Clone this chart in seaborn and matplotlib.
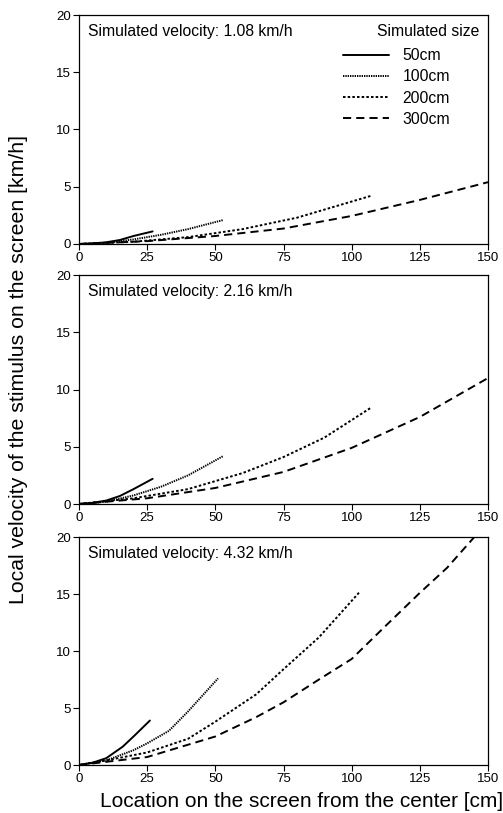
import numpy as np
import pandas as pd
import matplotlib
matplotlib.use("Agg")
import matplotlib.pyplot as plt
import seaborn as sns

sizes = ["50cm", "100cm", "200cm", "300cm"]
velocities = ["1.08", "2.16", "4.32"]

# panel 1: 1.08 km/h
p1_x_50 = [0, 5, 10, 15, 20, 27]
p1_y_50 = [0, 0.05, 0.15, 0.35, 0.7, 1.1]
p1_x_100 = [0, 10, 20, 30, 40, 53]
p1_y_100 = [0, 0.1, 0.4, 0.8, 1.3, 2.1]
p1_x_200 = [0, 20, 40, 60, 80, 107]
p1_y_200 = [0, 0.2, 0.6, 1.3, 2.3, 4.2]
p1_x_300 = [0, 25, 50, 75, 100, 125, 150]
p1_y_300 = [0, 0.25, 0.7, 1.35, 2.45, 3.85, 5.4]

# panel 2: 2.16 km/h
p2_x_50 = [0, 5, 10, 15, 20, 27]
p2_y_50 = [0, 0.1, 0.3, 0.7, 1.3, 2.2]
p2_x_100 = [0, 10, 20, 30, 40, 53]
p2_y_100 = [0, 0.2, 0.75, 1.5, 2.5, 4.2]
p2_x_200 = [0, 20, 40, 60, 75, 90, 107]
p2_y_200 = [0, 0.5, 1.3, 2.7, 4.1, 5.8, 8.4]
p2_x_300 = [0, 25, 50, 75, 100, 125, 150]
p2_y_300 = [0, 0.5, 1.4, 2.8, 4.9, 7.6, 11.0]

# panel 3: 4.32 km/h
p3_x_50 = [0, 5, 10, 16, 20, 26]
p3_y_50 = [0, 0.2, 0.6, 1.6, 2.5, 3.9]
p3_x_100 = [0, 10, 20, 25, 33, 40, 51]
p3_y_100 = [0, 0.4, 1.3, 1.9, 3.0, 4.7, 7.6]
p3_x_200 = [0, 10, 25, 40, 50, 65, 75, 88, 103]
p3_y_200 = [0, 0.4, 1.1, 2.3, 3.8, 6.2, 8.4, 11.2, 15.2]
p3_x_300 = [0, 25, 50, 65, 75, 88, 100, 112, 125, 135, 145]
p3_y_300 = [0, 0.7, 2.5, 4.2, 5.5, 7.5, 9.3, 12.1, 15.1, 17.3, 20.0]

xticks = [0, 25, 50, 75, 100, 125, 150]
yticks = [0, 5, 10, 15, 20]

panels = [
    [(p1_x_50, p1_y_50), (p1_x_100, p1_y_100), (p1_x_200, p1_y_200), (p1_x_300, p1_y_300)],
    [(p2_x_50, p2_y_50), (p2_x_100, p2_y_100), (p2_x_200, p2_y_200), (p2_x_300, p2_y_300)],
    [(p3_x_50, p3_y_50), (p3_x_100, p3_y_100), (p3_x_200, p3_y_200), (p3_x_300, p3_y_300)],
]

sns.set_style("ticks")
plt.rcParams["font.family"] = ["Liberation Sans", "DejaVu Sans"]
for key in ["text.color", "axes.labelcolor", "xtick.color", "ytick.color", "axes.edgecolor"]:
    plt.rcParams[key] = "black"

fig = plt.figure(figsize=(5.03, 8.13), dpi=100)
W, H = 503, 813
boxes = [(15, 244), (275, 504), (537, 765)]
left, right = 79, 488

dash_map = {"50cm": "", "100cm": (0.7, 0.5), "200cm": (1.3, 1.1), "300cm": (4.2, 2.6)}

for i, (top, bot) in enumerate(boxes):
    ax = fig.add_axes([left / W, 1 - bot / H, (right - left) / W, (bot - top) / H])
    rows = []
    for s, (xs, ys) in zip(sizes, panels[i]):
        for xv, yv in zip(xs, ys):
            rows.append({"x": xv, "y": yv, "size": s})
    df = pd.DataFrame(rows)
    sns.lineplot(data=df, x="x", y="y", style="size", style_order=sizes,
                 dashes=dash_map, color="black", linewidth=1.4,
                 estimator=None, sort=False, ax=ax, legend=(i == 0))
    ax.set_xlim(0, 150)
    ax.set_ylim(0, 20)
    ax.set_xticks(xticks)
    ax.set_yticks(yticks)
    ax.set_xlabel("")
    ax.set_ylabel("")
    ax.tick_params(labelsize=9.5, length=4, width=0.8, pad=2)
    for sp in ax.spines.values():
        sp.set_linewidth(0.9)
    ax.text(9 / (right - left), 1 - 9 / (bot - top), f"Simulated velocity: {velocities[i]} km/h",
            transform=ax.transAxes, fontsize=11.3, va="top", ha="left")
    if i == 0:
        ax.text((479 - left) / (right - left), (bot - 32) / (bot - top), "Simulated size",
                transform=ax.transAxes, fontsize=11.3, va="center", ha="right")
        ax.legend(loc="upper left", bbox_to_anchor=((343 - left) / (right - left), (bot - 48) / (bot - top)),
                  frameon=False, fontsize=11.3, handlelength=2.9, handletextpad=0.9,
                  labelspacing=0.4, borderaxespad=0, borderpad=0)

fig.text(100 / W, 1 - 801 / H, "Location on the screen from the center [cm]",
         fontsize=15, va="center", ha="left")
fig.text(19 / W, 1 - 369 / H, "Local velocity of the stimulus on the screen [km/h]",
         rotation=90, fontsize=15.3, va="center", ha="center")

fig.savefig("out.png", dpi=100)
